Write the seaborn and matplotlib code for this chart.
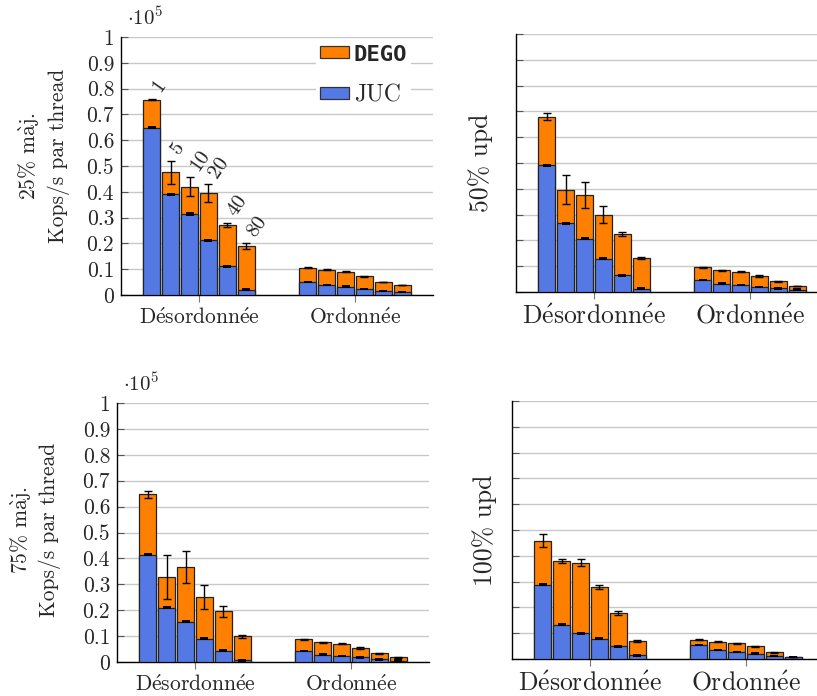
import matplotlib
matplotlib.use('Agg')
import matplotlib.pyplot as plt
import matplotlib.patches as mpatches
import pandas as pd
import seaborn as sns

# values in units of 1e5 Kops/s, first 6 = Désordonnée, last 6 = Ordonnée
groups = ['Désordonnée', 'Ordonnée']
group_labels = [r'D$\acute{\mathrm{e}}$sordonn$\acute{\mathrm{e}}$e',
                r'Ordonn$\acute{\mathrm{e}}$e']
threads = ['1', '5', '10', '20', '40', '80']

juc25 = [0.648, 0.391, 0.314, 0.212, 0.111, 0.021, 0.050, 0.038, 0.032, 0.023, 0.016, 0.012]
dego25 = [0.109, 0.085, 0.105, 0.184, 0.161, 0.168, 0.055, 0.060, 0.059, 0.049, 0.034, 0.027]
err25 = [0.003, 0.044, 0.037, 0.034, 0.009, 0.012, 0.002, 0.002, 0.002, 0.002, 0.001, 0.001]

juc50 = [0.491, 0.267, 0.207, 0.128, 0.065, 0.012, 0.047, 0.032, 0.027, 0.019, 0.014, 0.009]
dego50 = [0.189, 0.130, 0.169, 0.172, 0.160, 0.120, 0.049, 0.053, 0.051, 0.043, 0.027, 0.014]
err50 = [0.012, 0.056, 0.052, 0.032, 0.007, 0.005, 0.002, 0.002, 0.002, 0.002, 0.001, 0.001]

juc75 = [0.414, 0.210, 0.156, 0.090, 0.044, 0.006, 0.043, 0.028, 0.024, 0.018, 0.010, 0.005]
dego75 = [0.234, 0.117, 0.210, 0.161, 0.152, 0.093, 0.045, 0.048, 0.046, 0.036, 0.024, 0.013]
err75 = [0.014, 0.085, 0.061, 0.046, 0.022, 0.005, 0.002, 0.002, 0.002, 0.002, 0.002, 0.001]

juc100 = [0.288, 0.132, 0.099, 0.078, 0.049, 0.014, 0.054, 0.035, 0.028, 0.021, 0.012, 0.008]
dego100 = [0.171, 0.248, 0.274, 0.202, 0.129, 0.056, 0.021, 0.031, 0.033, 0.028, 0.014, 0.000]
err100 = [0.025, 0.008, 0.014, 0.008, 0.008, 0.003, 0.002, 0.002, 0.002, 0.002, 0.001, 0.001]

juc_err = [0.002, 0.002, 0.002, 0.002, 0.002, 0.002, 0.001, 0.001, 0.001, 0.001, 0.001, 0.001]

BLUE = '#5479e4'
ORANGE = '#ff8000'
MAJ = r'm$\grave{\mathrm{a}}$j.'

sns.set_theme(style='whitegrid')
plt.rcParams['font.family'] = ['cmr10', 'DejaVu Serif']
plt.rcParams['mathtext.fontset'] = 'cm'
plt.rcParams['axes.formatter.use_mathtext'] = True

W, H = 817, 696
fig = plt.figure(figsize=(W / 100, H / 100), dpi=100)


def add_ax(left, top, bottom, width=312):
    return fig.add_axes([left / W, 1 - bottom / H, width / W, (bottom - top) / H])


def draw(ax, juc, dego, err, ylabel, lab_x, lab_y, fs, left_labels):
    df = pd.DataFrame({
        'group': [g for g in groups for _ in threads],
        'thread': threads * 2,
        'juc': juc,
        'total': [a + b for a, b in zip(juc, dego)],
    })
    kw = dict(x='group', hue='thread', order=groups, hue_order=threads,
              width=0.73, gap=0.15, saturation=1, errorbar=None,
              edgecolor='#222222', linewidth=0.9, legend=False, ax=ax, zorder=3)
    sns.barplot(data=df, y='total', palette=[ORANGE] * 6, **kw)
    sns.barplot(data=df, y='juc', palette=[BLUE] * 6, **kw)
    # error bars at the centre of every drawn bar
    xs = {}
    for i, c in enumerate(ax.containers[:6]):
        for j, p in enumerate(c.patches):
            xs[j * 6 + i] = p.get_x() + p.get_width() / 2
    x = [xs[k] for k in range(12)]
    ax.errorbar(x, df['total'], yerr=err, fmt='none', ecolor='black',
                elinewidth=1, capsize=3, capthick=1, zorder=5)
    ax.errorbar(x, df['juc'], yerr=juc_err, fmt='none', ecolor='black',
                elinewidth=1.4, capsize=3, capthick=1.4, zorder=5)

    ax.set_xlim(-0.5, 1.5)
    ax.set_ylim(0, 1)
    ax.set_yticks([i / 10 for i in range(11)])
    ax.set_xticks([0, 1])
    ax.set_xticklabels(group_labels)
    ax.set_xlabel('')
    ax.set_ylabel(ylabel, fontsize=fs, linespacing=1.35)
    ax.yaxis.set_label_coords(lab_x, lab_y)
    ax.grid(axis='y', color='#c8c8c8', linewidth=1)
    ax.grid(axis='x', visible=False)
    ax.set_axisbelow(True)
    for s in ['top', 'right']:
        ax.spines[s].set_visible(False)
    for s in ['left', 'bottom']:
        ax.spines[s].set_visible(True)
        ax.spines[s].set_color('black')
        ax.spines[s].set_linewidth(1)
    ax.set_facecolor('white')
    ax.tick_params(axis='y', direction='in', length=5, width=0.8, color='#555555',
                   pad=5, left=True, labelsize=15.5, labelleft=left_labels)
    ax.tick_params(axis='x', direction='out', length=5, width=0.8, color='#777777',
                   pad=4, bottom=True, labelsize=fs)
    ax.set_yticklabels(['0'] + ['%.1f' % (i / 10) for i in range(1, 10)] + ['1'])
    if left_labels:
        ax.text(0.02, 1.03, r'$\cdot 10^5$', transform=ax.transAxes, fontsize=15,
                ha='left', va='bottom')
    return x, df


ax1 = add_ax(121, 37, 295)
x1, df1 = draw(ax1, juc25, dego25, err25, '25% ' + MAJ + '\nKops/s par thread',
               -0.165, 0.54, 15.5, True)
for k, t in enumerate(threads):
    ax1.annotate(t, (x1[k], df1['total'][k] + err25[k]), xytext=(3, 6),
                 textcoords='offset points', rotation=55, rotation_mode='anchor',
                 ha='left', va='center', fontsize=15)
handles = [mpatches.Patch(facecolor=ORANGE, edgecolor='#333333', linewidth=0.9),
           mpatches.Patch(facecolor=BLUE, edgecolor='#333333', linewidth=0.9)]
leg = ax1.legend(handles, ['DEGO', 'JUC'], loc='upper left',
                 bbox_to_anchor=(316 / W, 1 - 41 / H), bbox_transform=fig.transFigure,
                 frameon=True, framealpha=1, facecolor='white', edgecolor='none',
                 handlelength=1.25, handleheight=0.4, handletextpad=0.2,
                 labelspacing=0.85, borderpad=0.15, borderaxespad=0, fontsize=17)
leg.get_texts()[0].set_family('DejaVu Sans Mono')
leg.get_texts()[0].set_weight('bold')
leg.get_texts()[0].set_fontsize(16)

ax2 = add_ax(516, 34, 292)
draw(ax2, juc50, dego50, err50, '50% upd', -0.074, 0.5, 18.5, False)

ax3 = add_ax(117, 403, 662)
draw(ax3, juc75, dego75, err75, '75% ' + MAJ + '\nKops/s par thread',
     -0.178, 0.51, 15.5, True)

ax4 = add_ax(512, 401, 659)
draw(ax4, juc100, dego100, err100, '100% upd', -0.048, 0.5, 18.5, False)

fig.savefig('out.png', dpi=100)
